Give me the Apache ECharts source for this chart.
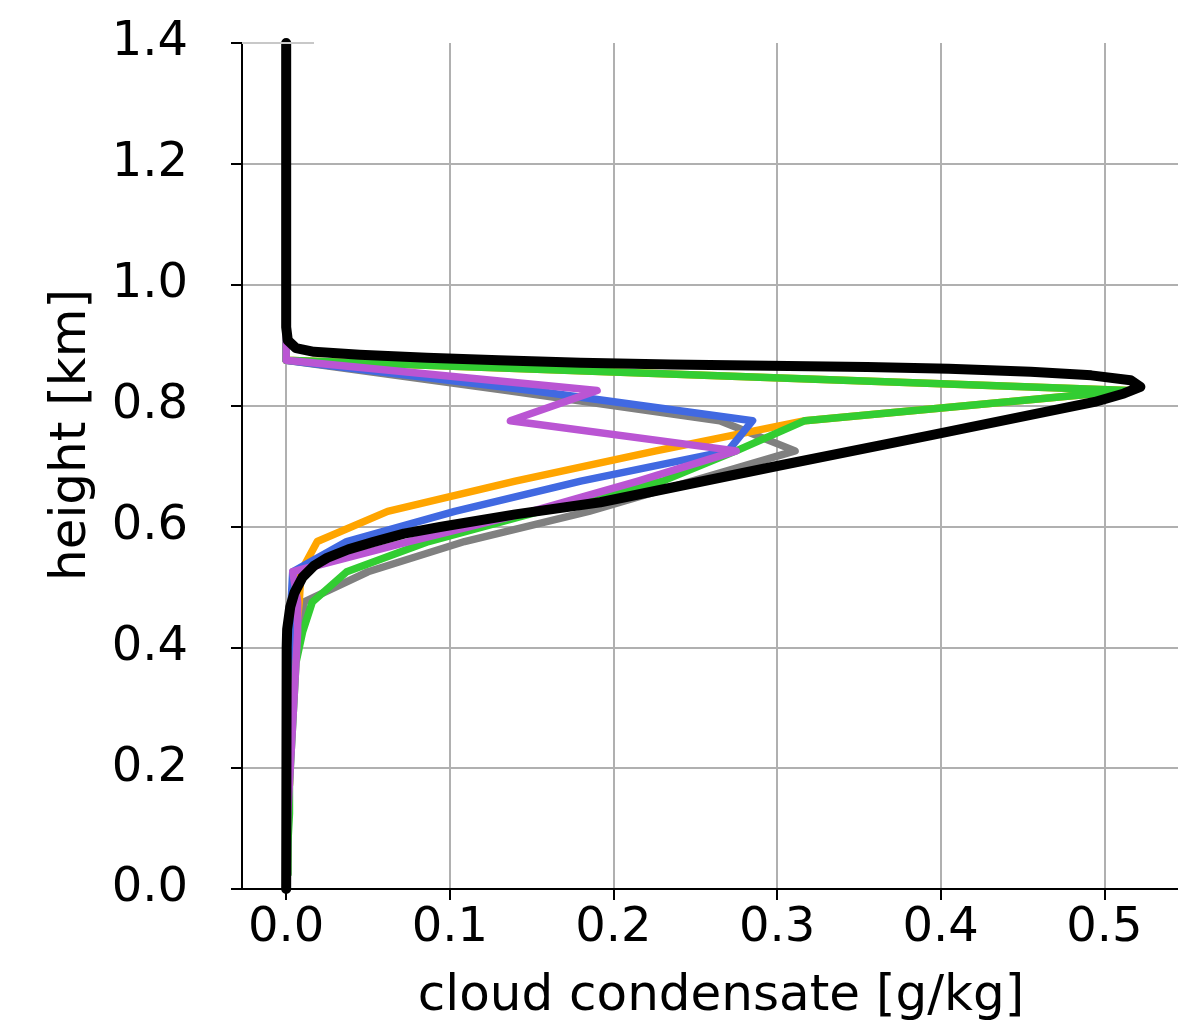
<!DOCTYPE html>
<html><head><meta charset="utf-8">
<script src="https://cdn.jsdelivr.net/npm/echarts@6/dist/echarts.min.js"></script>
<style>html,body{margin:0;padding:0;background:#fff}#c{width:1178px;height:1031px}</style>
</head><body><div id="c"></div>
<script>
// model levels [km]
const heights = [0.025,0.075,0.125,0.175,0.225,0.275,0.325,0.375,0.425,0.475,0.525,0.575,0.625,0.675,0.725,0.775,0.825,0.875,0.925,0.975,1.025,1.075,1.125,1.175,1.225,1.275,1.325,1.375];
// cloud condensate [g/kg]
const grayVals   = [0.001,0.001,0.001,0.002,0.002,0.003,0.003,0.004,0.009,0.011,0.050,0.109,0.185,0.248,0.311,0.265,0.135,0,0,0,0,0,0,0,0,0,0,0];
const orangeVals = [0.0005,0.001,0.001,0.002,0.002,0.003,0.003,0.004,0.006,0.008,0.009,0.019,0.062,0.140,0.226,0.317,0.515,0,0,0,0,0,0,0,0,0,0,0];
const blueVals   = [0.0005,0.001,0.001,0.001,0.002,0.002,0.002,0.003,0.003,0.003,0.004,0.037,0.103,0.180,0.270,0.285,0.150,0,0,0,0,0,0,0,0,0,0,0];
const greenVals  = [0.001,0.001,0.002,0.002,0.003,0.004,0.005,0.006,0.010,0.016,0.037,0.087,0.155,0.230,0.275,0.317,0.515,0,0,0,0,0,0,0,0,0,0,0];
const purpleVals = [0,0.0005,0.001,0.002,0.003,0.004,0.005,0.006,0.007,0.007,0.004,0.075,0.150,0.215,0.275,0.137,0.190,0,0,0,0,0,0,0,0,0,0,0];
// reference profile (high resolution)
const blackH = [0,0.40,0.43,0.467,0.49,0.516,0.535,0.548,0.562,0.574,0.588,0.599,0.62,0.64,0.70,0.75,0.806,0.82,0.831,0.842,0.850,0.856,0.861,0.864,0.866,0.868,0.871,0.875,0.879,0.884,0.889,0.895,0.908,0.93,1.4];
const blackX = [0,0.0003,0.0006,0.0025,0.005,0.010,0.017,0.025,0.038,0.053,0.072,0.094,0.14,0.192,0.300,0.392,0.494,0.512,0.522,0.516,0.492,0.455,0.405,0.355,0.295,0.235,0.180,0.130,0.086,0.045,0.017,0.006,0.001,0,0];

const xTicks = [0,0.1,0.2,0.3,0.4,0.5];
const yTicks = [0,0.2,0.4,0.6,0.8,1.0,1.2,1.4];
const yGridVals = [0,0.2,0.4,0.6,0.8,1.0,1.2];

const FONT = 'DejaVu Sans';
const pairs = (xs, hs) => xs.map((v, i) => [v, hs[i]]);
function lineSeries(name, color, width, data) {
  return {
    name, type: 'line', data, showSymbol: false, symbol: 'none',
    lineStyle: { color, width, cap: 'round', join: 'round' },
    silent: true, animation: false, clip: true
  };
}

const chart = echarts.init(document.getElementById('c'), null, { renderer: 'canvas' });
const series = [
  lineSeries('gray', '#808080', 7.5, pairs(grayVals, heights)),
  lineSeries('orange', '#FFA500', 7.5, pairs(orangeVals, heights)),
  lineSeries('blue', '#4169E1', 7.5, pairs(blueVals, heights)),
  lineSeries('green', '#32CD32', 7.5, pairs(greenVals, heights)),
  lineSeries('purple', '#BA55D3', 7.5, pairs(purpleVals, heights)),
  lineSeries('black', '#000000', 10, pairs(blackX, blackH))
];
series[0].markLine = {
  silent: true, symbol: 'none', animation: false,
  label: { show: false },
  lineStyle: { color: '#c8c8c8', width: 2, type: 'solid' },
  data: [[{ coord: [-0.027, 1.4] }, { coord: [0.017, 1.4] }]]
};

chart.setOption({
  animation: false,
  backgroundColor: '#ffffff',
  grid: { left: 242, right: 0, top: 43, bottom: 142, containLabel: false },
  xAxis: {
    type: 'value', min: -0.027, max: 0.545,
    axisLine: { show: true, onZero: false, lineStyle: { color: '#000', width: 2 } },
    axisTick: { show: true, length: 11, customValues: xTicks, lineStyle: { color: '#000', width: 2 } },
    axisLabel: { customValues: xTicks, formatter: v => v.toFixed(1), fontFamily: FONT, fontSize: 48, color: '#000', margin: 16 },
    splitLine: { show: true, lineStyle: { color: '#b0b0b0', width: 2 } }
  },
  yAxis: [{
    type: 'value', min: 0, max: 1.4, interval: 0.2,
    axisLine: { show: true, onZero: false, lineStyle: { color: '#000', width: 2 } },
    axisTick: { show: true, length: 11, lineStyle: { color: '#000', width: 2 } },
    axisLabel: { formatter: v => v.toFixed(1), fontFamily: FONT, fontSize: 48, color: '#000', margin: 54 },
    splitLine: { show: false }
  }, {
    type: 'value', min: 0, max: 1.4, position: 'left',
    axisLine: { show: false }, axisLabel: { show: false },
    axisTick: { show: false, customValues: yGridVals },
    splitLine: { show: true, lineStyle: { color: '#b0b0b0', width: 2 } }
  }],
  graphic: [
    { type: 'text', x: 721, y: 997, z: 10,
      style: { text: 'cloud condensate [g/kg]', font: '50px "DejaVu Sans"', fill: '#000', align: 'center', verticalAlign: 'middle', textAlign: 'center', textVerticalAlign: 'middle' } },
    { type: 'text', x: 72, y: 435, rotation: Math.PI / 2, z: 10,
      style: { text: 'height [km]', font: '50px "DejaVu Sans"', fill: '#000', align: 'center', verticalAlign: 'middle', textAlign: 'center', textVerticalAlign: 'middle' } }
  ],
  series
});
</script></body></html>
